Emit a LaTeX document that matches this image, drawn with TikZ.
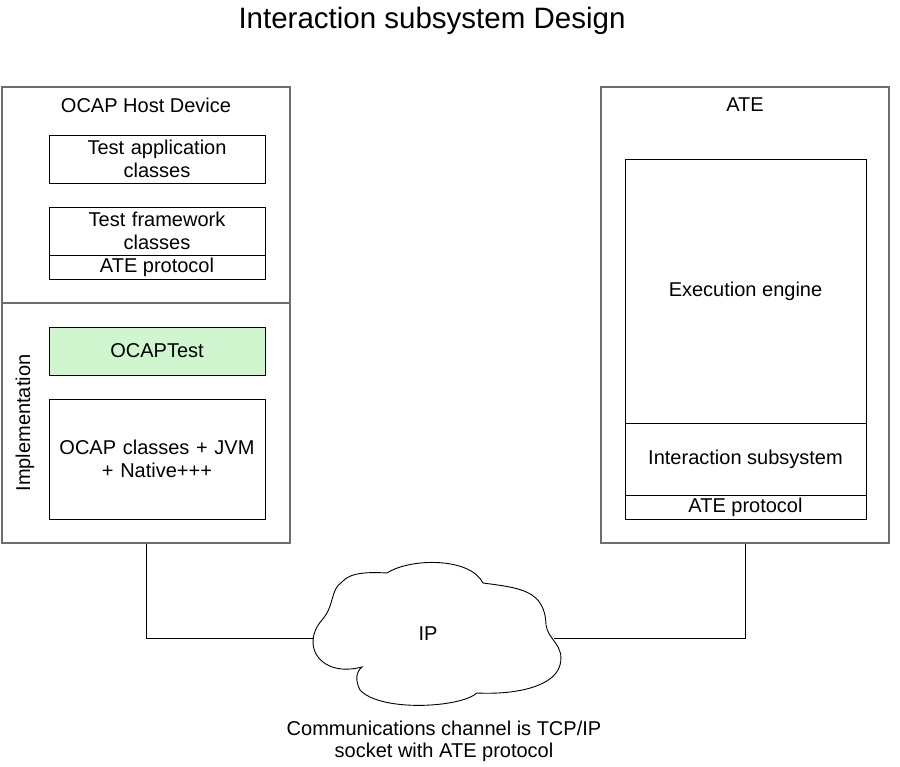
\documentclass[tikz,border=0pt]{standalone}
\usepackage{fontspec}
\setmainfont{Liberation Sans}
\newcommand\bodyfnt{\fontsize{20}{23}\selectfont}
\newcommand\titlefnt{\fontsize{29.5}{34}\selectfont}
\definecolor{ocapgreen}{RGB}{208,246,208}
\definecolor{outergray}{RGB}{110,110,110}
\begin{document}
\begin{tikzpicture}[x=1pt,y=-1pt,
  box/.style={draw=black, line width=0.9pt, inner sep=0pt, align=center, font=\bodyfnt},
  outerbox/.style={draw=outergray, line width=1.4pt, inner sep=0pt},
  lbl/.style={inner sep=0pt, align=center, font=\bodyfnt},
  wire/.style={draw=black, line width=0.9pt}]
\useasboundingbox (0,0) rectangle (900,767);

% title
\node[inner sep=0pt, font=\titlefnt] (title) at (432,21) {Interaction subsystem Design};

% host device
\node[outerbox, minimum width=288, minimum height=456] (host) at (146,315) {};
\draw[outergray, line width=1.2pt] (host.west |- 0,303) -- (host.east |- 0,303);
\node[lbl] (hostlbl) at (146,105) {OCAP Host Device};
\node[box, minimum width=216, minimum height=48, text width=210] (tapp) at (157,159) {Test application\\classes};
\node[box, minimum width=216, minimum height=48, text width=210] (tfw) at (157,231) {Test framework\\classes};
\node[box, minimum width=216, minimum height=24] (proto1) at (157,267) {ATE protocol};
\node[box, fill=ocapgreen, minimum width=216, minimum height=48] (ocaptest) at (157,351) {OCAPTest};
\node[box, minimum width=216, minimum height=120, text width=210] (ocapcls) at (157,459) {OCAP classes + JVM\\+ Native+++};
\node[lbl, rotate=90] (impl) at (25,423) {Implementation};

% ATE
\node[outerbox, minimum width=288, minimum height=456] (ate) at (745,315) {};
\node[lbl] (atelbl) at (745,105) {ATE};
\node[box, minimum width=241, minimum height=264] (exec) at (745.5,291) {Execution engine};
\node[box, minimum width=241, minimum height=72] (inter) at (745.5,459) {Interaction subsystem};
\node[box, minimum width=241, minimum height=24] (proto2) at (745.5,507) {ATE protocol};

% cloud
\draw[line width=0.9pt, fill=white]
  (362,667) .. controls (320,678) and (300,645) .. (322,620)
  .. controls (335,605) and (330,590) .. (342,582)
  .. controls (350,572) and (370,572) .. (387,573)
  .. controls (410,558) and (470,557) .. (483,583)
  .. controls (520,588) and (545,590) .. (546,625)
  .. controls (548,640) and (565,645) .. (560,665)
  .. controls (555,685) and (520,695) .. (477,693)
  .. controls (460,708) and (380,712) .. (360,690)
  .. controls (355,680) and (356,672) .. (362,667) -- cycle;
\node[lbl] (ip) at (428,634) {IP};
\coordinate (cloudL) at (313.5,638);
\coordinate (cloudR) at (553.5,638);

\draw[wire] (host.south) |- (cloudL);
\draw[wire] (ate.south) |- (cloudR);

\node[lbl, font=\fontsize{20}{22}\selectfont] (caption) at (444,741) {Communications channel is TCP/IP\\socket with ATE protocol};
\end{tikzpicture}
\end{document}
